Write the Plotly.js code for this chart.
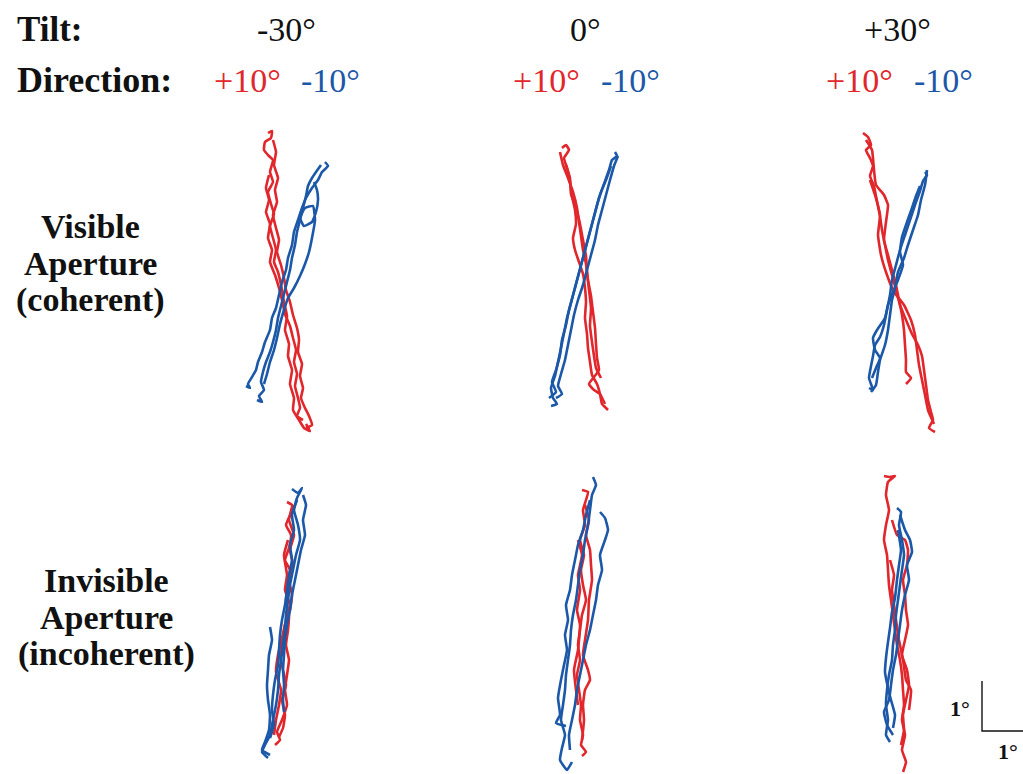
<!DOCTYPE html>
<html>
<head>
<meta charset="utf-8">
<script src="https://cdn.plot.ly/plotly-3.0.1.min.js"></script>
<style>html,body{margin:0;padding:0;background:#fff;}#chart{width:1023px;height:774px;}</style>
</head>
<body>
<div id="chart"></div>
<script>
// ---------------- DATA (eye position, degrees, relative to panel centre) ----------------
const tiltLabels = ['-30°', '0°', '+30°'];
const directionLabels = ['+10°', '-10°'];
const rowLabelsVisible = ['Visible', 'Aperture', '(coherent)'];
const rowLabelsInvisible = ['Invisible', 'Aperture', '(incoherent)'];
const scaleBarDeg = 1;

// Visible aperture, tilt -30
const vis_m30_red_x = [
 [-0.34,-0.26,-0.28,-0.40,-0.42,-0.32,-0.24,-0.30,-0.24,-0.34,-0.28,-0.22,-0.30,-0.24,-0.18,-0.22,-0.14,-0.06,-0.02,0.04,0,0.08,0.06,0.14,0.10,0.18,0.16,0.28,0.38,0.50,0.42],
 [-0.24,-0.18,-0.22,-0.14,-0.20,-0.16,-0.24,-0.18,-0.12,-0.16,-0.08,-0.02,0.02,0.10,0.16,0.24,0.28,0.26,0.34,0.30,0.36,0.32,0.40,0.48,0.54,0.42],
 [-0.32,-0.38,-0.32,-0.38,-0.30,-0.34,-0.26,-0.30,-0.20,-0.12,-0.06,0,0.10,0.16,0.22,0.18,0.24,0.20,0.26,0.30,0.24,0.36]];
const vis_m30_red_y = [
 [2.96,3.00,2.86,2.78,2.62,2.50,2.42,2.18,1.98,1.78,1.54,1.34,1.10,0.86,0.62,0.38,0.18,-0.18,-0.42,-0.70,-0.98,-1.26,-1.50,-1.78,-2.06,-2.34,-2.58,-2.78,-2.94,-3.00,-2.86],
 [2.82,2.58,2.32,2.06,1.82,1.58,1.32,1.06,0.82,0.58,0.32,0.06,-0.18,-0.42,-0.68,-0.94,-1.18,-1.42,-1.66,-1.90,-2.14,-2.34,-2.54,-2.70,-2.88,-2.94],
 [2.12,1.86,1.62,1.38,1.14,0.86,0.62,0.38,0.12,-0.14,-0.38,-0.66,-0.90,-1.14,-1.38,-1.62,-1.86,-2.10,-2.34,-2.54,-2.70,-2.78]];
const vis_m30_blue_x = [
 [0.80,0.86,0.74,0.66,0.54,0.42,0.34,0.26,0.18,0.14,0.06,0.02,-0.06,-0.12,-0.18,-0.26,-0.30,-0.40,-0.46,-0.54,-0.58,-0.66,-0.74,-0.70,-0.78],
 [0.72,0.62,0.54,0.46,0.42,0.36,0.30,0.24,0.20,0.14,0.10,0.04,-0.02,-0.08,-0.14,-0.18,-0.24,-0.30,-0.38,-0.44,-0.48,-0.42,-0.52,-0.46,-0.56],
 [0.58,0.64,0.66,0.62,0.54,0.38,0.30,0.40,0.56,0.60,0.54,0.48,0.40,0.30,0.18,0.06,-0.02,-0.10,-0.16,-0.22,-0.30,-0.36,-0.42]];
const vis_m30_blue_y = [
 [2.38,2.30,2.18,2.02,1.86,1.66,1.46,1.22,0.98,0.72,0.46,0.22,-0.02,-0.28,-0.54,-0.74,-0.98,-1.22,-1.42,-1.62,-1.78,-1.92,-2.06,-2.14,-2.10],
 [2.32,2.18,2.06,1.90,1.70,1.46,1.22,0.98,0.72,0.46,0.22,-0.02,-0.26,-0.50,-0.74,-0.98,-1.22,-1.42,-1.62,-1.82,-2.02,-2.18,-2.30,-2.42,-2.38],
 [1.98,1.82,1.62,1.38,1.18,1.10,1.26,1.46,1.50,1.22,0.86,0.58,0.34,0.10,-0.14,-0.34,-0.58,-0.86,-1.14,-1.38,-1.62,-1.86,-2.06]];

// Visible aperture, tilt 0
const vis_0_red_x = [
 [-0.42,-0.34,-0.28,-0.38,-0.32,-0.26,-0.22,-0.16,-0.14,-0.20,-0.16,-0.08,0,0.04,0.06,0.04,0.08,0.10,0.14,0.18,0.28,0.34,0.38,0.50,0.42],
 [-0.46,-0.40,-0.30,-0.20,-0.12,-0.08,-0.04,0,0.06,0.10,0.16,0.20,0.24,0.26,0.28,0.32,0.22,0.12,0.22,0.34,0.44],
 [-0.34,-0.26,-0.24,-0.14,-0.06,0,0.06,0.08,0.12,0.16,0.14,0.18,0.22,0.26,0.36]];
const vis_0_red_y = [
 [2.66,2.72,2.62,2.46,2.26,1.98,1.70,1.42,1.14,0.86,0.62,0.38,0.14,-0.14,-0.42,-0.74,-1.06,-1.34,-1.62,-1.88,-2.06,-2.26,-2.46,-2.58,-2.50],
 [2.58,2.32,2.06,1.78,1.46,1.18,0.90,0.62,0.34,0.02,-0.30,-0.62,-0.94,-1.26,-1.54,-1.78,-1.92,-2.06,-2.18,-2.26,-2.46],
 [2.32,2.06,1.74,1.46,1.14,0.82,0.50,0.18,-0.18,-0.54,-0.90,-1.22,-1.50,-1.74,-1.94]];
const vis_0_blue_x = [
 [0.64,0.68,0.58,0.52,0.42,0.32,0.24,0.16,0.08,0,-0.08,-0.16,-0.24,-0.32,-0.38,-0.44,-0.50,-0.56,-0.64,-0.60,-0.52,-0.64],
 [0.70,0.62,0.54,0.46,0.38,0.30,0.24,0.16,0.08,0,-0.10,-0.18,-0.24,-0.30,-0.36,-0.44,-0.50,-0.42,-0.54],
 [0.56,0.46,0.36,0.28,0.20,0.12,0.04,-0.04,-0.12,-0.20,-0.28,-0.34,-0.42,-0.46,-0.54,-0.62,-0.54,-0.68]];
const vis_0_blue_y = [
 [2.58,2.50,2.42,2.22,1.94,1.66,1.36,1.06,0.76,0.46,0.16,-0.14,-0.44,-0.74,-1.04,-1.34,-1.62,-1.90,-2.14,-2.34,-2.46,-2.50],
 [2.50,2.30,2.02,1.72,1.42,1.12,0.82,0.52,0.22,-0.08,-0.38,-0.68,-0.98,-1.28,-1.58,-1.86,-2.10,-2.26,-2.34],
 [2.30,2.02,1.78,1.52,1.22,0.92,0.62,0.32,0.02,-0.28,-0.58,-0.88,-1.18,-1.48,-1.78,-2.02,-2.22,-2.34]];

// Visible aperture, tilt +30
const vis_p30_red_x = [
 [-0.68,-0.58,-0.52,-0.62,-0.54,-0.48,-0.54,-0.46,-0.42,-0.38,-0.34,-0.30,-0.24,-0.18,-0.10,-0.02,0.06,0.18,0.30,0.42,0.50,0.54,0.58,0.62,0.68,0.72,0.64,0.76],
 [-0.62,-0.50,-0.46,-0.42,-0.26,-0.18,-0.22,-0.26,-0.18,-0.10,-0.02,0.04,0.10,0.14,0.16,0.18,0.18,0.28,0.18],
 [-0.54,-0.44,-0.34,-0.38,-0.32,-0.20,-0.06,0.14,0.28,0.36,0.40,0.44,0.50,0.56,0.62,0.74]];
const vis_p30_red_y = [
 [2.96,2.88,2.72,2.62,2.46,2.30,2.10,1.90,1.70,1.50,1.30,1.02,0.72,0.42,0.12,-0.18,-0.48,-0.78,-1.06,-1.28,-1.50,-1.78,-2.08,-2.38,-2.62,-2.78,-2.94,-3.02],
 [2.82,2.62,2.22,1.92,1.72,1.52,1.18,0.82,0.52,0.22,-0.08,-0.38,-0.68,-0.98,-1.28,-1.58,-1.82,-1.94,-2.06],
 [2.02,1.72,1.32,0.92,0.52,0.12,-0.22,-0.48,-0.78,-1.08,-1.38,-1.68,-1.98,-2.28,-2.58,-2.86]];
const vis_p30_blue_x = [
 [0.56,0.60,0.52,0.46,0.36,0.26,0.16,0.06,-0.02,-0.10,-0.14,-0.20,-0.26,-0.34,-0.44,-0.48,-0.52,-0.56,-0.48,-0.56],
 [0.60,0.56,0.48,0.42,0.32,0.22,0.14,0.02,-0.04,-0.10,-0.14,-0.18,-0.24,-0.34,-0.38,-0.42,-0.52],
 [0.46,0.38,0.30,0.20,0.10,0.06,0.12,0.02,-0.08,-0.18,-0.24,-0.40,-0.48,-0.44,-0.34,-0.42,-0.50]];
const vis_p30_blue_y = [
 [2.18,2.12,2.00,1.80,1.52,1.22,0.92,0.62,0.32,0.02,-0.28,-0.58,-0.88,-1.12,-1.28,-1.50,-1.70,-1.94,-2.18,-2.14],
 [2.22,1.92,1.62,1.32,1.02,0.72,0.46,0.18,-0.14,-0.38,-0.68,-0.98,-1.28,-1.58,-1.82,-2.08,-2.22],
 [1.90,1.70,1.46,1.18,0.88,0.58,0.32,0.02,-0.22,-0.48,-0.74,-0.98,-1.14,-1.38,-1.54,-1.74,-1.94]];

// Invisible aperture, tilt -30
const inv_m30_red_x = [
 [0.04,0.14,0.10,0.02,0.12,0.08,0,0.10,0.06,0.02,0.08,0.06,0.02,0.08,0.04,0,0.04,-0.06,-0.16,-0.10,-0.20],
 [0.16,0.08,0.18,0.10,0.16,0.08,0.14,0.10,0,-0.04,-0.10,-0.04,0.02,-0.06,0,-0.04,-0.12],
 [0.06,-0.02,0.04,0,0.10,0.02,-0.06,-0.14,-0.18,-0.08,-0.12,-0.18,-0.22]];
const inv_m30_red_y = [
 [2.46,2.40,2.20,2.00,1.80,1.54,1.30,1.10,0.80,0.50,0.20,-0.10,-0.40,-0.70,-1.00,-1.30,-1.60,-1.90,-2.14,-2.30,-2.40],
 [2.40,2.10,1.80,1.50,1.20,0.90,0.60,0.30,0,-0.30,-0.60,-0.90,-1.20,-1.50,-1.80,-2.06,-2.24],
 [1.70,1.40,1.00,0.70,0.40,0.10,-0.26,-0.60,-0.94,-1.30,-1.60,-1.90,-2.20]];
const inv_m30_blue_x = [
 [0.14,0.26,0.34,0.24,0.18,0.26,0.30,0.22,0.16,0.10,0.06,0.02,0,-0.04,-0.08,-0.12,-0.14,-0.18,-0.24,-0.30,-0.40,-0.46,-0.34],
 [0.36,0.42,0.36,0.40,0.32,0.26,0.20,0.14,0.10,0.04,0,-0.02,-0.04,-0.02,-0.04,-0.02],
 [-0.30,-0.26,-0.32,-0.34,-0.36,-0.34,-0.30,-0.32,-0.40,-0.46,-0.30],
 [0.24,0.14,0.18,0.10,0.14,0.08,0.04,0,-0.06,-0.10,-0.12,-0.14,-0.20,-0.24,-0.26,-0.22,-0.30]];
const inv_m30_blue_y = [
 [2.72,2.64,2.74,2.54,2.30,2.00,1.70,1.40,1.10,0.80,0.50,0.20,-0.10,-0.40,-0.70,-1.00,-1.30,-1.60,-1.90,-2.20,-2.40,-2.54,-2.66],
 [2.60,2.40,2.10,1.80,1.50,1.20,0.90,0.60,0.30,0,-0.30,-0.60,-0.90,-1.20,-1.50,-1.74],
 [-0.04,-0.30,-0.60,-0.90,-1.20,-1.50,-1.80,-2.10,-2.34,-2.50,-2.60],
 [2.50,2.20,1.90,1.60,1.30,1.00,0.70,0.40,0.10,-0.20,-0.50,-0.80,-1.10,-1.40,-1.70,-2.00,-2.26]];

// Invisible aperture, tilt 0
const inv_0_red_x = [
 [-0.02,0.10,0.06,0,0.04,-0.06,0.02,-0.04,0,0.06,-0.02,-0.06,-0.10,-0.06,-0.12,-0.08,-0.04,-0.06,0,-0.04,0.06,-0.02],
 [0.04,0.12,0.06,0.14,0.16,0.18,0.12,0.10,0.04,0,0.10,0.14,0.04,0,0.02,-0.02],
 [-0.10,-0.02,-0.10,-0.06,-0.12,-0.06,-0.10,-0.18,-0.14,-0.10]];
const inv_0_red_y = [
 [2.70,2.66,2.50,2.30,2.00,1.70,1.40,1.10,0.80,0.50,0.20,-0.10,-0.40,-0.70,-1.00,-1.30,-1.60,-1.90,-2.20,-2.40,-2.54,-2.62],
 [2.40,2.10,1.80,1.50,1.20,0.90,0.50,0.10,-0.30,-0.60,-0.90,-1.10,-1.30,-1.60,-1.90,-2.30],
 [1.70,1.40,1.00,0.70,0.30,0,-0.50,-0.90,-1.30,-1.60]];
const inv_0_blue_x = [
 [0.20,0.26,0.18,0.14,0.10,0.04,0,-0.06,-0.10,-0.14,-0.20,-0.24,-0.26,-0.30,-0.34,-0.36,-0.40,-0.44,-0.36,-0.42,-0.46,-0.32,-0.22],
 [0.34,0.44,0.50,0.44,0.34,0.38,0.30,0.26,0.20,0.14,0.06,0,-0.06,-0.12,-0.16,-0.22,-0.28,-0.26],
 [0.14,0.06,0,-0.10,-0.16,-0.22,-0.26,-0.34,-0.30,-0.36,-0.32,-0.38,-0.44,-0.50,-0.46,-0.54,-0.34]];
const inv_0_blue_y = [
 [2.96,2.80,2.60,2.30,2.00,1.70,1.40,1.10,0.80,0.50,0.20,-0.10,-0.40,-0.70,-1.00,-1.30,-1.60,-1.90,-2.20,-2.46,-2.70,-2.90,-2.74],
 [2.26,2.14,1.90,1.70,1.40,1.10,0.80,0.50,0.20,-0.10,-0.40,-0.70,-1.00,-1.30,-1.60,-1.90,-2.20,-2.50],
 [2.50,2.20,1.90,1.60,1.30,1.00,0.70,0.40,0.10,-0.20,-0.50,-0.80,-1.10,-1.46,-1.80,-1.96,-2.02]];

// Invisible aperture, tilt +30
const inv_p30_red_x = [
 [-0.26,-0.14,-0.04,-0.18,-0.22,-0.16,-0.22,-0.26,-0.20,-0.18,-0.16,-0.12,-0.08,-0.04,0,0.06,0.10,0.12,0.14,0.10,0.16,0.10,0.18,0.12],
 [-0.10,0,0.16,0.22,0.20,0.12,0.16,0.18,0.22,0.16,0.10,0.20,0.24,0.18,0.12,0.14,0.08],
 [-0.14,-0.06,-0.10,-0.06,-0.02,0.04,0.12,0.18,0.28,0.24]];
const inv_p30_red_y = [
 [2.98,2.96,2.98,2.86,2.60,2.30,2.00,1.70,1.40,1.10,0.80,0.50,0.20,-0.10,-0.40,-0.70,-1.00,-1.30,-1.60,-1.90,-2.20,-2.50,-2.74,-2.94],
 [2.10,1.80,1.70,1.50,1.20,0.90,0.60,0.30,0,-0.30,-0.60,-0.90,-1.20,-1.50,-1.80,-2.10,-2.40],
 [1.30,1.00,0.70,0.40,0.10,-0.30,-0.70,-1.10,-1.30,-1.70]];
const inv_p30_blue_x = [
 [0,0.08,0.04,0.10,0.14,0.10,0.06,0.02,-0.02,-0.04,-0.08,-0.10,-0.16,-0.20,-0.22,-0.18,-0.22,-0.14],
 [0.06,0.16,0.26,0.30,0.20,0.24,0.16,0.10,0.06,0.02,-0.02,-0.08,-0.12,-0.16,-0.26,-0.20,-0.08],
 [0.02,0.08,0.04,0,-0.04,-0.10,-0.14,-0.18,-0.22,-0.24,-0.18,-0.12,-0.04,-0.08]];
const inv_p30_blue_y = [
 [2.34,2.26,2.00,1.70,1.40,1.10,0.80,0.50,0.20,-0.10,-0.40,-0.70,-1.00,-1.30,-1.60,-1.90,-2.20,-2.34],
 [2.20,1.90,1.70,1.46,1.20,0.90,0.60,0.30,0,-0.30,-0.60,-0.90,-1.20,-1.50,-1.74,-2.00,-2.20],
 [1.90,1.50,1.20,0.90,0.54,0.26,-0.06,-0.34,-0.66,-0.94,-1.26,-1.50,-1.80,-2.06]];

// ---------------- LAYOUT / STYLE ----------------
const W = 1023, H = 774, PX_PER_DEG = 50;
const RED = '#e1262c', BLUE = '#1c58a8', INK = '#111111';
const colCenters = [285, 583, 897];
const rowCenters = [281, 625];
const FONT = 'Liberation Serif, Times New Roman, serif';

const panels = [
  {row:0, col:0, rx:vis_m30_red_x, ry:vis_m30_red_y, bx:vis_m30_blue_x, by:vis_m30_blue_y},
  {row:0, col:1, rx:vis_0_red_x,   ry:vis_0_red_y,   bx:vis_0_blue_x,   by:vis_0_blue_y},
  {row:0, col:2, rx:vis_p30_red_x, ry:vis_p30_red_y, bx:vis_p30_blue_x, by:vis_p30_blue_y},
  {row:1, col:0, rx:inv_m30_red_x, ry:inv_m30_red_y, bx:inv_m30_blue_x, by:inv_m30_blue_y},
  {row:1, col:1, rx:inv_0_red_x,   ry:inv_0_red_y,   bx:inv_0_blue_x,   by:inv_0_blue_y},
  {row:1, col:2, rx:inv_p30_red_x, ry:inv_p30_red_y, bx:inv_p30_blue_x, by:inv_p30_blue_y}
];

const traces = [];
const layout = {
  width: W, height: H,
  margin: {l:0, r:0, t:0, b:0},
  paper_bgcolor: '#ffffff', plot_bgcolor: 'rgba(0,0,0,0)',
  showlegend: false,
  annotations: []
};

panels.forEach((p, i) => {
  const cx = colCenters[p.col], cy = rowCenters[p.row];
  const left = cx - 120, right = (p.col === 2) ? W : cx + 120;
  const top = Math.max(0, cy - 175), bottom = Math.min(H, cy + 175);
  const sfx = i === 0 ? '' : String(i + 1);
  layout['xaxis' + sfx] = {domain:[left / W, right / W], range:[(left - cx) / PX_PER_DEG, (right - cx) / PX_PER_DEG],
    visible:false, fixedrange:true, anchor:'y' + sfx};
  layout['yaxis' + sfx] = {domain:[1 - bottom / H, 1 - top / H], range:[(cy - bottom) / PX_PER_DEG, (cy - top) / PX_PER_DEG],
    visible:false, fixedrange:true, anchor:'x' + sfx};
  const line = c => ({color:c, width:2.6, shape:'spline', smoothing:0.4});
  p.rx.forEach((xs, k) => traces.push({type:'scatter', mode:'lines', x:xs, y:p.ry[k], line:line(RED), xaxis:'x' + sfx, yaxis:'y' + sfx, hoverinfo:'skip'}));
  p.bx.forEach((xs, k) => traces.push({type:'scatter', mode:'lines', x:xs, y:p.by[k], line:line(BLUE), xaxis:'x' + sfx, yaxis:'y' + sfx, hoverinfo:'skip'}));
  if (i === 5) {
    // 1° scale bar, corner placed beside the last panel
    const sx = 1.70, sy = -2.12;
    traces.push({type:'scatter', mode:'lines', x:[sx, sx, sx + scaleBarDeg], y:[sy + scaleBarDeg, sy, sy],
      line:{color:INK, width:1.4}, xaxis:'x' + sfx, yaxis:'y' + sfx, hoverinfo:'skip'});
  }
});

function ann(text, x, y, opts) {
  const o = Object.assign({size:34, bold:false, color:INK, xanchor:'center'}, opts || {});
  layout.annotations.push({text:text, xref:'paper', yref:'paper', x:x / W, y:1 - y / H,
    xanchor:o.xanchor, yanchor:'middle', showarrow:false,
    font:{family:FONT, size:o.size, color:o.color, weight:o.bold ? 'bold' : 'normal'}});
}

ann('Tilt:', 15, 29, {bold:true, size:35, xanchor:'left'});
ann('Direction:', 15, 80, {bold:true, size:36, xanchor:'left'});
const tiltX = [286, 585, 897];
tiltLabels.forEach((t, i) => ann(t, tiltX[i], 29, {size:34}));
const dirX = [[247, 330], [546, 630], [859, 943]];
dirX.forEach(pair => {
  ann(directionLabels[0], pair[0], 80, {size:34, color:RED});
  ann(directionLabels[1], pair[1], 80, {size:34, color:BLUE});
});
const visY = [227, 264, 300];
rowLabelsVisible.forEach((t, i) => ann(t, 90, visY[i], {bold:true, size:34}));
const invY = [580, 617, 654];
rowLabelsInvisible.forEach((t, i) => ann(t, 106, invY[i], {bold:true, size:34}));
ann('1°', 960, 708, {bold:true, size:22});
ann('1°', 1008, 751, {bold:true, size:22});

Plotly.newPlot('chart', traces, layout, {displayModeBar:false, staticPlot:true});
</script>
</body>
</html>
